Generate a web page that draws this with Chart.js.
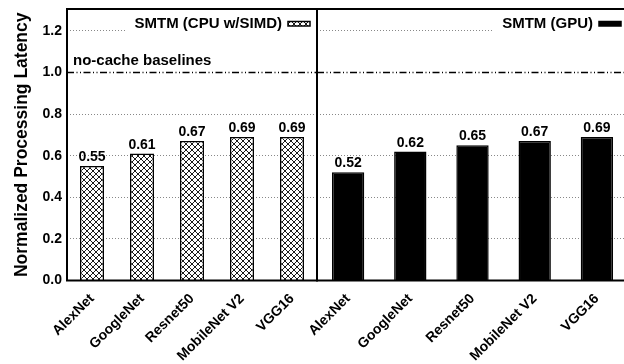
<!DOCTYPE html>
<html>
<head>
<meta charset="utf-8">
<script src="https://cdn.jsdelivr.net/npm/chart.js@4"></script>
<style>
  html, body { margin: 0; padding: 0; background: #fff; overflow: hidden; }
  #wrap { position: relative; width: 624px; height: 364px; overflow: hidden; }
  #cpuChart { position: absolute; left: 0; top: 0; }
  #gpuChart { position: absolute; left: 267px; top: 0; }
</style>
</head>
<body>
<div id="wrap">
  <canvas id="cpuChart" width="319" height="364"></canvas>
  <canvas id="gpuChart" width="361" height="364"></canvas>
</div>
<script>
const models = ['AlexNet', 'GoogleNet', 'Resnet50', 'MobileNet V2', 'VGG16'];
const cpuSimdLatency = [0.55, 0.61, 0.67, 0.69, 0.69];
const gpuLatency = [0.52, 0.62, 0.65, 0.67, 0.69];
const yTickValues = [0, 0.2, 0.4, 0.6, 0.8, 1.0, 1.2];
const baselineLevel = 1.0;
const baselineLabel = 'no-cache baselines';
const cpuLegend = 'SMTM (CPU w/SIMD)';
const gpuLegend = 'SMTM (GPU)';

const FONT = '"Liberation Sans", Arial, Helvetica, sans-serif';

// diagonal cross-hatch for the CPU bars
function makeHatch() {
  const c = document.createElement('canvas');
  c.width = 6;
  c.height = 6;
  const g = c.getContext('2d');
  g.fillStyle = '#fff';
  g.fillRect(0, 0, 6, 6);
  g.strokeStyle = '#000';
  g.lineWidth = 0.9;
  g.beginPath();
  g.moveTo(0, 0); g.lineTo(6, 6);
  g.moveTo(6, 0); g.lineTo(0, 6);
  g.stroke();
  return g.createPattern(c, 'repeat');
}
const hatch = makeHatch();

const valueLabels = {
  id: 'valueLabels',
  afterDatasetsDraw(chart) {
    const {ctx} = chart;
    const meta = chart.getDatasetMeta(0);
    const values = chart.data.datasets[0].data;
    ctx.save();
    ctx.font = 'bold 14px ' + FONT;
    ctx.fillStyle = '#000';
    ctx.textAlign = 'center';
    ctx.textBaseline = 'alphabetic';
    meta.data.forEach((bar, i) => {
      ctx.fillText(values[i].toFixed(2), bar.x, bar.y - 5);
    });
    ctx.restore();
  }
};

const panelDecor = {
  id: 'panelDecor',
  afterDatasetsDraw(chart, args, opts) {
    const {ctx, chartArea} = chart;
    const y = chart.scales.y.getPixelForValue(baselineLevel);
    ctx.save();
    ctx.strokeStyle = '#000';
    ctx.lineWidth = 1.5;
    ctx.setLineDash([7, 2.5, 1, 2.5, 1, 2.5]);
    ctx.beginPath();
    ctx.moveTo(chartArea.left, y);
    ctx.lineTo(chartArea.right, y);
    ctx.stroke();
    ctx.setLineDash([]);
    if (opts.baselineText) {
      ctx.font = 'bold 15px ' + FONT;
      ctx.fillStyle = '#000';
      ctx.textAlign = 'left';
      ctx.fillText(opts.baselineText, chartArea.left + 6, y - 7);
    }
    ctx.restore();
  },
  afterDraw(chart, args, opts) {
    const {ctx, chartArea} = chart;
    ctx.save();
    // legend, top right inside the panel
    ctx.font = 'bold 15px ' + FONT;
    const sw = 22, sh = 4.5;
    const swRight = chartArea.right - 7;
    const swLeft = swRight - sw;
    const textRight = swLeft - 6;
    const textW = ctx.measureText(opts.legendText).width;
    ctx.fillStyle = '#fff';
    ctx.fillRect(textRight - textW - 9, chartArea.top + 2, chartArea.right - 2 - (textRight - textW - 9), 25);
    ctx.fillStyle = '#000';
    ctx.textAlign = 'right';
    ctx.textBaseline = 'alphabetic';
    ctx.fillText(opts.legendText, textRight, chartArea.top + 19);
    ctx.fillStyle = opts.swatchFill;
    ctx.fillRect(swLeft, chartArea.top + 12.5, sw, sh);
    ctx.strokeStyle = '#000';
    ctx.lineWidth = 1.5;
    ctx.strokeRect(swLeft, chartArea.top + 12.5, sw, sh);
    // frame
    ctx.lineWidth = 2;
    ctx.strokeRect(chartArea.left, chartArea.top, chartArea.right - chartArea.left, chartArea.bottom - chartArea.top);
    ctx.restore();
  }
};

function gridColor(c) {
  const v = c.tick && c.tick.value;
  if (v === 0 || v === baselineLevel) return 'rgba(0,0,0,0)';
  return '#888';
}

function makeChart(id, values, fill, barPct, showY, rightPad, decor) {
  return new Chart(document.getElementById(id), {
    type: 'bar',
    data: {
      labels: models,
      datasets: [{
        data: values,
        backgroundColor: fill,
        borderColor: '#000',
        borderWidth: 1.5,
        barPercentage: barPct,
        categoryPercentage: 1
      }]
    },
    options: {
      responsive: false,
      animation: false,
      events: [],
      layout: { autoPadding: false, padding: { top: 9, right: rightPad, left: 0, bottom: 0 } },
      scales: {
        x: {
          grid: { display: false },
          border: { display: false },
          ticks: {
            color: '#000',
            font: { family: FONT, size: 14, weight: 'bold' },
            minRotation: 45,
            maxRotation: 45,
            autoSkip: false,
            padding: 2
          },
          afterFit: s => {
            s.height = 83.5;
            s.paddingLeft = 0;
            s.paddingRight = 0;
          }
        },
        y: {
          min: 0,
          max: 1.305,
          afterBuildTicks: s => { s.ticks = yTickValues.map(v => ({ value: v })); },
          grid: { color: gridColor, lineWidth: 1, drawTicks: false },
          border: { display: false, dash: [1, 2] },
          ticks: {
            display: showY,
            color: '#000',
            padding: 5,
            font: { family: FONT, size: 14, weight: 'bold' },
            callback: v => v.toFixed(1)
          },
          title: {
            display: showY,
            text: 'Normalized Processing Latency',
            color: '#000',
            font: { family: FONT, size: 17.5, weight: 'bold' },
            padding: { top: 12, bottom: 0 }
          },
          afterFit: s => {
            s.width = showY ? 67 : 50;
            s.paddingTop = 0;
            s.paddingBottom = 0;
          }
        }
      },
      plugins: {
        legend: { display: false },
        tooltip: { enabled: false },
        panelDecor: decor
      }
    },
    plugins: [valueLabels, panelDecor]
  });
}

makeChart('cpuChart', cpuSimdLatency, hatch, 0.48, true, 2,
  { legendText: cpuLegend, swatchFill: hatch, baselineText: baselineLabel });
makeChart('gpuChart', gpuLatency, '#000', 0.52, false, 0,
  { legendText: gpuLegend, swatchFill: '#000', baselineText: null });
</script>
</body>
</html>
